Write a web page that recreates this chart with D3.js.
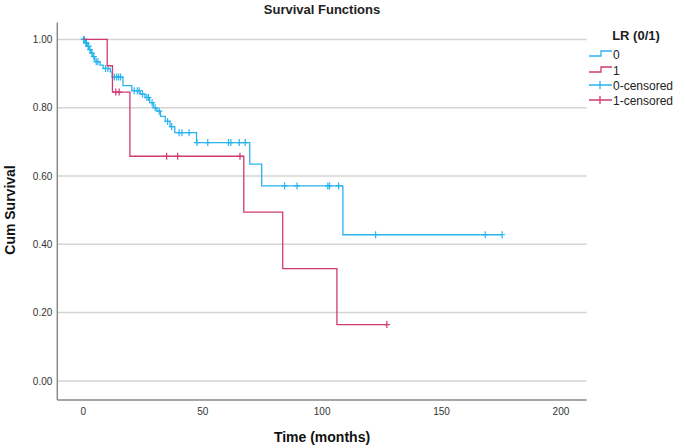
<!DOCTYPE html>
<html>
<head>
<meta charset="utf-8">
<script src="https://d3js.org/d3.v7.min.js"></script>
<style>
  body { margin: 0; background: #fff; }
  svg { font-family: "Liberation Sans", Arial, sans-serif; }
  .grid line { stroke: #d4d4d4; stroke-width: 1.5; }
  .axis path { stroke: #8a8a8a; stroke-width: 1.5; fill: none; }
  .axis text { font-size: 10px; fill: #333; }
  .title { font-size: 13px; font-weight: bold; fill: #222; text-anchor: middle; }
  .axis-title { font-size: 14px; font-weight: bold; fill: #111; text-anchor: middle; }
  .legend text { font-size: 12px; fill: #222; }
</style>
</head>
<body>
<svg id="chart" width="685" height="448"></svg>
<script>
// tick labels
const xTicks = [0, 50, 100, 150, 200];
const yTicks = [0, 0.2, 0.4, 0.6, 0.8, 1.0];

// LR = 0 : step times and survival after the step
const cyanTimes = [0, 1.0, 1.8, 2.6, 3.4, 4.2, 5.0, 7.2, 8.5, 11.5, 12.3, 16.8, 20.5, 24, 26, 28, 29.5, 31, 32.5, 34.5, 36.5, 38.5, 47.6, 69.9, 74.9, 108.9];
const cyanSurv  = [1.0, 0.99, 0.98, 0.97, 0.96, 0.95, 0.935, 0.925, 0.915, 0.905, 0.89, 0.865, 0.85, 0.84, 0.83, 0.815, 0.80, 0.79, 0.775, 0.76, 0.745, 0.727, 0.698, 0.635, 0.571, 0.428];
const cyanCensored = [0.3, 0.6, 1.3, 1.5, 2.2, 2.4, 3.0, 3.8, 4.6, 5.6, 6.3, 9.5, 10.5, 13.2, 14.2, 15.0, 15.8, 21.5, 22.8, 23.6, 25.0, 26.8, 27.5, 29.0, 30.3, 32.0, 35.5, 37.2, 40.3, 41.5, 44.5, 47.8, 52.3, 61, 62, 65.5, 68, 84.5, 89.7, 102.6, 103.3, 107.1, 122.6, 168.5, 175.6];

// LR = 1
const redTimes = [0, 10.2, 12.4, 19.7, 67.4, 83.7, 106.4];
const redSurv  = [1.0, 0.923, 0.846, 0.658, 0.494, 0.329, 0.165];
const redCensored = [13.8, 15.2, 35.1, 39.7, 65.8, 127.3];

const cyan = "#2ab4ee";
const red = "#cf3a72";

const svg = d3.select("#chart");

const x = d3.scaleLinear().domain([-10.7, 211]).range([57.3, 586.7]);
const y = d3.scaleLinear().domain([-0.056, 1.05]).range([400, 22.4]);

// grid
svg.append("g").attr("class", "grid")
  .selectAll("line").data(yTicks).enter().append("line")
  .attr("x1", x.range()[0]).attr("x2", x.range()[1])
  .attr("y1", d => y(d)).attr("y2", d => y(d));

// axes
svg.append("g").attr("class", "axis")
  .attr("transform", "translate(0,400)")
  .call(d3.axisBottom(x).tickValues(xTicks).tickSize(0).tickPadding(8).tickFormat(d3.format("d")))
  .call(g => g.select(".domain").attr("d", `M${x.range()[0]},0H${x.range()[1]}`));

svg.append("g").attr("class", "axis")
  .attr("transform", `translate(${x.range()[0]},0)`)
  .call(d3.axisLeft(y).tickValues(yTicks).tickSize(0).tickPadding(5).tickFormat(d3.format(".2f")))
  .call(g => g.select(".domain").attr("d", `M0,${y.range()[1]}V400`));

// survival curves
function stepData(times, surv, endT) {
  const pts = times.map((t, i) => [t, surv[i]]);
  pts.push([endT, surv[surv.length - 1]]);
  return pts;
}
function survAt(times, surv, t) {
  let s = surv[0];
  for (let i = 0; i < times.length; i++) if (times[i] <= t) s = surv[i];
  return s;
}
const line = d3.line().x(d => x(d[0])).y(d => y(d[1])).curve(d3.curveStepAfter);

const groups = [
  { times: cyanTimes, surv: cyanSurv, cens: cyanCensored, color: cyan },
  { times: redTimes, surv: redSurv, cens: redCensored, color: red }
];

groups.forEach(gp => {
  const endT = d3.max(gp.cens.concat(gp.times));
  svg.append("path")
    .attr("d", line(stepData(gp.times, gp.surv, endT)))
    .attr("fill", "none").attr("stroke", gp.color).attr("stroke-width", 1.3);
  svg.append("g").selectAll("path").data(gp.cens).enter().append("path")
    .attr("transform", d => `translate(${x(d)},${y(survAt(gp.times, gp.surv, d))})`)
    .attr("d", "M-3,0H3M0,-3.5V3.5")
    .attr("stroke", gp.color).attr("stroke-width", 1.2).attr("fill", "none");
});

// titles
svg.append("text").attr("class", "title").attr("x", 322).attr("y", 14).text("Survival Functions");
svg.append("text").attr("class", "axis-title").attr("x", 322).attr("y", 442).text("Time (months)");
svg.append("text").attr("class", "axis-title")
  .attr("transform", "translate(15,210) rotate(-90)").text("Cum Survival");

// legend
const legend = svg.append("g").attr("class", "legend");
legend.append("text").attr("x", 636).attr("y", 40).attr("text-anchor", "middle")
  .style("font-size", "13px").style("font-weight", "bold").text("LR (0/1)");
const items = [
  { label: "0", color: cyan, type: "step" },
  { label: "1", color: red, type: "step" },
  { label: "0-censored", color: cyan, type: "cens" },
  { label: "1-censored", color: red, type: "cens" }
];
const rowY = [54, 70, 85, 100];
items.forEach((it, i) => {
  const cy = rowY[i];
  const d = it.type === "step"
    ? `M589,${cy + 2}H601V${cy - 3}H612`
    : `M589,${cy}H612M600,${cy - 4}V${cy + 4}`;
  legend.append("path").attr("d", d).attr("fill", "none")
    .attr("stroke", it.color).attr("stroke-width", 1.3);
  legend.append("text").attr("x", 613).attr("y", cy + 4.5).text(it.label);
});
</script>
</body>
</html>
